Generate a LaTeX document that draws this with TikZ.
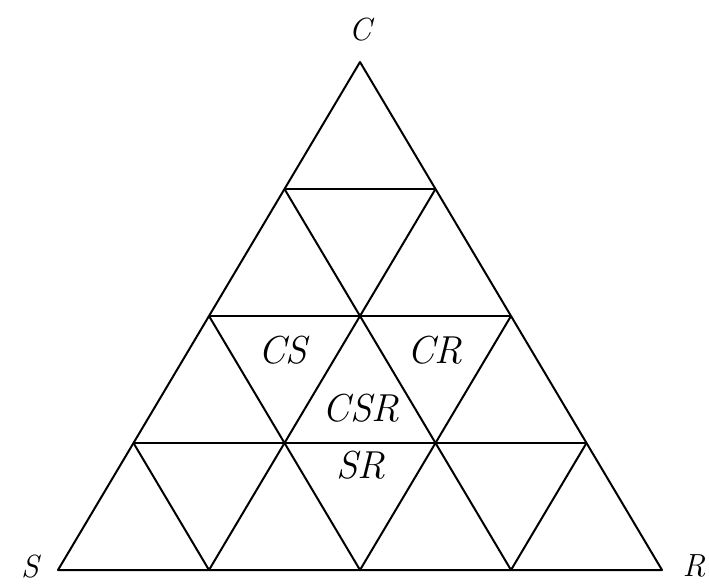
\documentclass[tikz,border=0pt]{standalone}
\usetikzlibrary{positioning}
\begin{document}
\begin{tikzpicture}[
x=1pt,
y=-1pt,
edge/.style={
line width=2pt,
line join=round
},
corner/.style={
inner sep=0pt,
font=\fontsize{32}{38}\selectfont\itshape
},
region/.style={
inner sep=0pt,
font=\fontsize{39}{45}\selectfont\itshape
}
]
\useasboundingbox (0,0) rectangle (709,586);

% grid points, row k counted up from the base S--R
\foreach \k in {0,...,4}{
  \pgfmathtruncatemacro{\last}{4-\k}
  \foreach \j in {0,...,\last}{
    \coordinate (p\k\j) at ({58+75.5*\k+151*\j},{570-127*\k});
  }
}

% outer triangle
\draw[edge] (p00) -- (p04) -- (p40) -- cycle;

% horizontal lines
\foreach \k in {1,2,3}{
  \pgfmathtruncatemacro{\last}{4-\k}
  \draw[edge] (p\k0) -- (p\k\last);
}

% slanted lines
\foreach \i in {1,2,3}{
  \pgfmathtruncatemacro{\top}{4-\i}
  \draw[edge] (p0\i) -- (p\top\i);
  \draw[edge] (p0\i) -- (p\i0);
}

\node[corner] (cLabel) at (360,30) {C};
\node[corner] (sLabel) at (30,567) {S};
\node[corner] (rLabel) at (694,566) {R};

\node[region] (cs) at (283,350) {CS};
\node[region] (cr) at (435,350) {CR};
\node[region] (csr) at (361,408) {CSR};
\node[region] (sr) at (361,465) {SR};

\end{tikzpicture}
\end{document}
